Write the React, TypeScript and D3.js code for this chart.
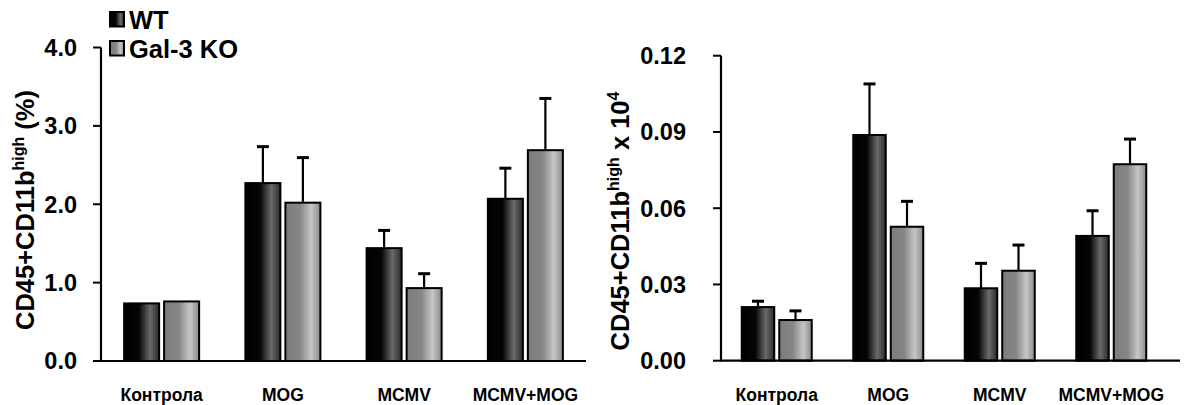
import React from "react";
import * as d3 from "d3";

const categories = ["Контрола", "MOG", "MCMV", "MCMV+MOG"];
const series = ["WT", "Gal-3 KO"];

// Left panel: CD45+CD11b high (%)
const pctWT = [0.735, 2.27, 1.44, 2.07];
const pctWTErr = [0, 0.465, 0.226, 0.39];
const pctKO = [0.76, 2.02, 0.93, 2.69];
const pctKOErr = [0, 0.575, 0.184, 0.66];
const pctTicks = [0, 1, 2, 3, 4];

// Right panel: CD45+CD11b high x 10^4
const absWT = [0.0211, 0.0888, 0.0285, 0.0491];
const absWTErr = [0.0023, 0.0201, 0.0098, 0.0099];
const absKO = [0.016, 0.0527, 0.0354, 0.0773];
const absKOErr = [0.0036, 0.01, 0.0101, 0.0099];
const absTicks = [0, 0.03, 0.06, 0.09, 0.12];

const FONT = "'Liberation Sans', Arial, Helvetica, sans-serif";

function Gradients() {
  return (
    <defs>
      <linearGradient id="gWT" x1="0" x2="1" y1="0" y2="0">
        <stop offset="0%" stopColor="#000" />
        <stop offset="42%" stopColor="#050505" />
        <stop offset="74%" stopColor="#6a6a6a" />
        <stop offset="100%" stopColor="#2b2b2b" />
      </linearGradient>
      <linearGradient id="gKO" x1="0" x2="1" y1="0" y2="0">
        <stop offset="0%" stopColor="#7c7c7c" />
        <stop offset="42%" stopColor="#868686" />
        <stop offset="74%" stopColor="#c6c6c6" />
        <stop offset="100%" stopColor="#8a8a8a" />
      </linearGradient>
    </defs>
  );
}

type PanelProps = {
  xRange: [number, number];
  axisEnd: number;
  yRange: [number, number];
  yMax: number;
  ticks: number[];
  fmt: string;
  barW: number;
  gap: number;
  wt: number[];
  wtErr: number[];
  ko: number[];
  koErr: number[];
  labelRight: number;
  title: React.ReactNode;
  titleX: number;
  titleY: number;
};

function Panel(p: PanelProps) {
  const step = (p.xRange[1] - p.xRange[0]) / categories.length;
  const groupW = 2 * p.barW + p.gap;
  const pi = 1 - groupW / step;
  const x = d3
    .scaleBand<string>()
    .domain(categories)
    .range(p.xRange)
    .paddingInner(pi)
    .paddingOuter(pi / 2);
  const sub = d3
    .scaleBand<string>()
    .domain(series)
    .range([0, x.bandwidth()])
    .paddingInner(p.gap / (p.barW + p.gap));
  const y = d3.scaleLinear().domain([0, p.yMax]).range(p.yRange);
  const f = d3.format(p.fmt);
  const x0 = p.xRange[0];
  const vals = [p.wt, p.ko];
  const errs = [p.wtErr, p.koErr];
  const fills = ["url(#gWT)", "url(#gKO)"];

  return (
    <g fontFamily={FONT} fontWeight="bold">
      {categories.map((c, ci) =>
        series.map((s, si) => {
          const v = vals[si][ci];
          const e = errs[si][ci];
          const bx = (x(c) as number) + (sub(s) as number);
          const bw = sub.bandwidth();
          const cx = bx + bw / 2;
          return (
            <g key={c + s}>
              {e > 0 && (
                <>
                  <line x1={cx} x2={cx} y1={y(v)} y2={y(v + e)} stroke="#000" strokeWidth={2.2} />
                  <line x1={cx - 6} x2={cx + 6} y1={y(v + e)} y2={y(v + e)} stroke="#000" strokeWidth={3} />
                </>
              )}
              <rect
                x={bx}
                y={y(v)}
                width={bw}
                height={y(0) - y(v)}
                fill={fills[si]}
                stroke="#000"
                strokeWidth={2}
              />
            </g>
          );
        })
      )}
      <line x1={x0} x2={x0} y1={y(p.yMax)} y2={y(0)} stroke="#000" strokeWidth={2.2} />
      <line x1={x0 - 1} x2={p.axisEnd} y1={y(0)} y2={y(0)} stroke="#000" strokeWidth={2.2} />
      {p.ticks.map((t) => (
        <g key={t}>
          <line x1={x0 - 8} x2={x0} y1={y(t)} y2={y(t)} stroke="#000" strokeWidth={2} />
          <text x={p.labelRight} y={y(t)} dy="0.36em" textAnchor="end" fontSize={23.5}>
            {f(t)}
          </text>
        </g>
      ))}
      {categories.map((c) => (
        <text
          key={c}
          x={(x(c) as number) + x.bandwidth() / 2}
          y={401}
          textAnchor="middle"
          fontSize={17.5}
        >
          {c}
        </text>
      ))}
      <text
        transform={`translate(${p.titleX},${p.titleY}) rotate(-90)`}
        textAnchor="middle"
        fontSize={25.5}
      >
        {p.title}
      </text>
    </g>
  );
}

export default function App() {
  return (
    <svg
      width={1188}
      height={405}
      style={{ position: "absolute", left: 0, top: 0, background: "#fff" }}
    >
      <Gradients />
      <Panel
        xRange={[101, 586]}
        axisEnd={586}
        yRange={[361, 47.5]}
        yMax={4}
        ticks={pctTicks}
        fmt=".1f"
        barW={35}
        gap={5}
        wt={pctWT}
        wtErr={pctWTErr}
        ko={pctKO}
        koErr={pctKOErr}
        labelRight={77}
        title={
          <>
            CD45+CD11b
            <tspan fontSize={16} dy={-10}>high</tspan>
            <tspan dy={10}> (%)</tspan>
          </>
        }
        titleX={34}
        titleY={210}
      />
      <Panel
        xRange={[721, 1167]}
        axisEnd={1180}
        yRange={[360.7, 55.7]}
        yMax={0.12}
        ticks={absTicks}
        fmt=".2f"
        barW={32.5}
        gap={5}
        wt={absWT}
        wtErr={absWTErr}
        ko={absKO}
        koErr={absKOErr}
        labelRight={686}
        title={
          <>
            CD45+CD11b
            <tspan fontSize={16} dy={-10}>high</tspan>
            <tspan dy={10}> x 10</tspan>
            <tspan fontSize={16} dy={-10}>4</tspan>
          </>
        }
        titleX={629}
        titleY={221}
      />
      <g fontFamily={FONT} fontWeight="bold" fontSize={25.5}>
        {series.map((s, i) => (
          <g key={s}>
            <rect
              x={110}
              y={12 + i * 29}
              width={14}
              height={14.5}
              fill={i === 0 ? "url(#gWT)" : "url(#gKO)"}
              stroke="#000"
              strokeWidth={2}
            />
            <text x={129} y={28.5 + i * 29}>
              {s}
            </text>
          </g>
        ))}
      </g>
    </svg>
  );
}
